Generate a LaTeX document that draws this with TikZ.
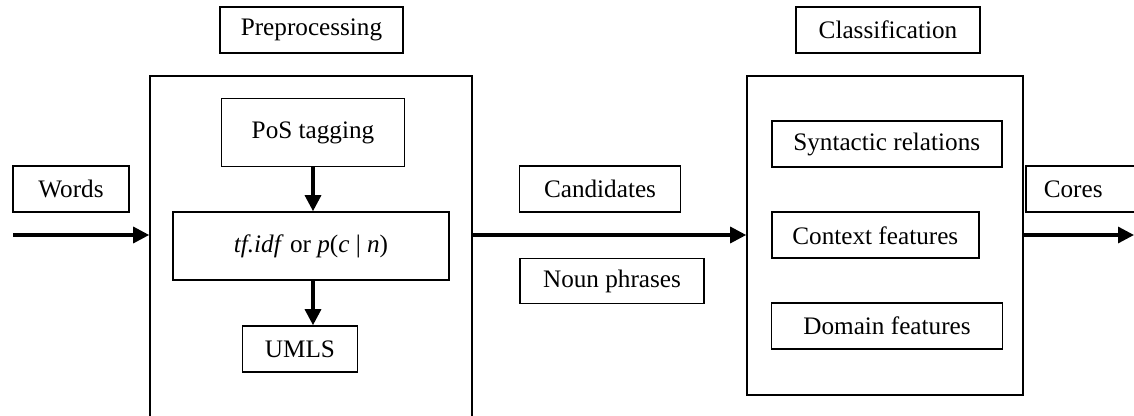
\documentclass[tikz,border=0pt]{standalone}
\usepackage{fontspec}
\setmainfont{Liberation Serif}
\usetikzlibrary{arrows.meta, positioning}

\begin{document}
\begin{tikzpicture}[x=0.5pt, y=-0.5pt,
    box/.style={draw, line width=0.8pt, inner sep=0pt, font=\fontsize{12.6}{15}\selectfont},
    arr/.style={-{Triangle[length=8pt,width=8pt]}, line width=1.6pt}]
    \useasboundingbox (0,0) rectangle (1134,416);
    \clip (0,0) rectangle (1134,416);
    % preprocessing stage
    \node[box, minimum width=91.5pt, minimum height=23pt] (pre) at (311.5,30) {Preprocessing};
    \node[box, minimum width=161pt, minimum height=177pt] (prebox) at (311,253) {};
    \node[box, minimum width=91.5pt, minimum height=34pt] (pos) at (313,132.5) {PoS tagging};
    \node[box, minimum width=138pt, minimum height=34pt] (tf) at (311,246) {\textit{tf.idf} or \textit{p}(\textit{c} | \textit{n})};
    \node[box, minimum width=57.5pt, minimum height=23pt] (umls) at (300,349) {UMLS};
    \draw[arr] (pos) -- (pos |- tf.north);
    \draw[arr] (pos |- tf.south) -- (pos |- umls.north);
    % input
    \node[box, minimum width=58pt, minimum height=23pt] (words) at (71,189) {Words};
    \coordinate (in) at (13,235);
    \draw[arr] (in) -- (in -| prebox.west);
    % candidates
    \node[box, minimum width=80.5pt, minimum height=23pt] (cand) at (600,189) {Candidates};
    \node[box, minimum width=92pt, minimum height=22.5pt] (np) at (612,281) {Noun phrases};
    % classification stage
    \node[box, minimum width=92pt, minimum height=23pt] (cls) at (888,30) {Classification};
    \node[box, minimum width=138pt, minimum height=159.5pt] (clsbox) at (885,235.5) {};
    \node[box, minimum width=115pt, minimum height=23pt] (syn) at (886.7,144) {Syntactic relations};
    \node[box, minimum width=103.5pt, minimum height=23pt] (ctx) at (875.3,235.3) {Context features};
    \node[box, minimum width=115.5pt, minimum height=23pt] (dom) at (887,326) {Domain features};
    \draw[arr] (prebox.east |- in) -- (clsbox.west |- in);
    % output
    \node[box, anchor=west, minimum height=23pt, inner xsep=9pt, text width=60pt, align=left] (cores) at (1025,189) {Cores};
    \coordinate (out) at (1134,235);
    \draw[arr] (clsbox.east |- out) -- (out);
\end{tikzpicture}
\end{document}
